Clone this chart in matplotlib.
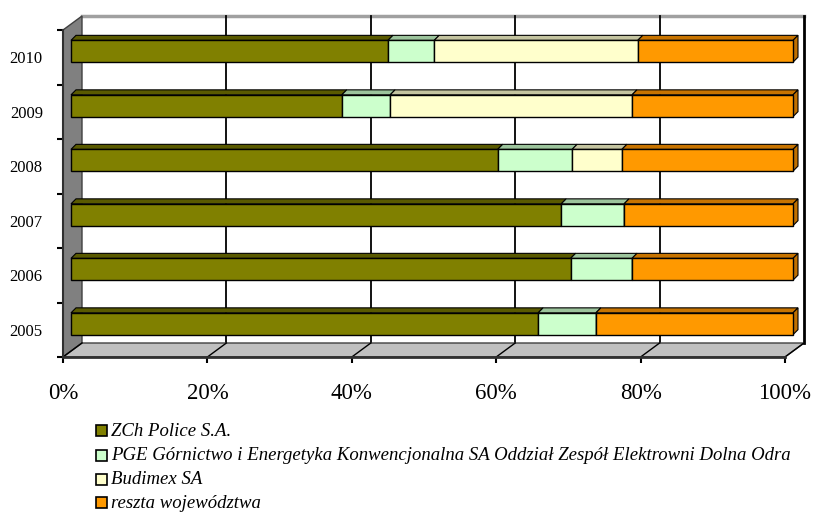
import numpy as np
import matplotlib
matplotlib.use('Agg')
import matplotlib.pyplot as plt
from matplotlib.patches import Polygon, Rectangle

years = ['2005', '2006', '2007', '2008', '2009', '2010']
zch = [64.7, 69.2, 67.9, 59.1, 37.5, 43.9]
pge = [8.0, 8.5, 8.7, 10.3, 6.7, 6.4]
budimex = [0.0, 0.0, 0.0, 6.9, 33.5, 28.2]
reszta = [27.3, 22.3, 23.4, 23.7, 22.3, 21.5]

labels = ['ZCh Police S.A.',
          'PGE Górnictwo i Energetyka Konwencjonalna SA Oddział Zespół Elektrowni Dolna Odra',
          'Budimex SA',
          'reszta województwa']
colors = ['#808000', '#ccffcc', '#ffffcc', '#ff9900']
top_colors = ['#5a5a00', '#9cc49c', '#c4c4a0', '#c87400']
side_colors = ['#5a5a00', '#9cc49c', '#c4c4a0', '#c07000']
xticks = [0, 20, 40, 60, 80, 100]

W, H = 814, 513
fig = plt.figure(figsize=(W / 100, H / 100), dpi=100)
# front plane of the 3D box in pixels (left, right, top, bottom)
L, R, T, B = 63, 785, 30, 357
ax = fig.add_axes([L / W, (H - B) / H, (R - L) / W, (B - T) / H])
ax.set_xlim(0, 100)
ax.set_ylim(-0.5, 5.5)
ax.patch.set_visible(False)

# pixel -> data
sx = 100 / (R - L)
sy = 6 / (B - T)
DX, DY = 19 * sx, 14 * sy

# back wall
ax.add_patch(Rectangle((DX, -0.5 + DY), 100, 6, facecolor='white', edgecolor='none',
                       zorder=0, clip_on=False))
ax.plot([DX, 100 + DX], [5.5 + DY, 5.5 + DY], color='#a0a0a0', lw=2.5, zorder=1, clip_on=False)
ax.plot([100 + DX, 100 + DX], [-0.5 + DY, 5.5 + DY], color='black', lw=2, zorder=1, clip_on=False)
for x in xticks[1:-1]:
    ax.plot([x + DX, x + DX], [-0.5 + DY, 5.5 + DY], color='black', lw=1.3, zorder=1, clip_on=False)

# left wall
ax.add_patch(Polygon([(0, -0.5), (0, 5.5), (DX, 5.5 + DY), (DX, -0.5 + DY)],
                     facecolor='#808080', edgecolor='#404040', lw=1, zorder=2, clip_on=False))
# floor
ax.add_patch(Polygon([(0, -0.5), (100, -0.5), (100 + DX, -0.5 + DY), (DX, -0.5 + DY)],
                     facecolor='#c0c0c0', edgecolor='#404040', lw=1, zorder=2, clip_on=False))
for x in xticks:
    ax.plot([x, x + DX], [-0.5, -0.5 + DY], color='black', lw=1, zorder=3, clip_on=False)

# bars
y = np.arange(len(years))
fx, fy = 8 * sx, 6 * sy      # bar front face offset
bx, by = 5 * sx, 5 * sy      # bar depth
h = 0.40
series = [zch, pge, budimex, reszta]
left = np.zeros(len(years))
for k, vals in enumerate(series):
    vals = np.array(vals)
    for i in range(len(years)):
        if vals[i] <= 0:
            continue
        l = left[i] + fx
        r = l + vals[i]
        t = y[i] + fy + h / 2
        b = y[i] + fy - h / 2
        z = 10 + k
        ax.add_patch(Polygon([(l, t), (r, t), (r + bx, t + by), (l + bx, t + by)],
                             facecolor=top_colors[k], edgecolor='black', lw=0.8,
                             zorder=z, clip_on=False))
        if k == len(series) - 1:
            ax.add_patch(Polygon([(r, b), (r, t), (r + bx, t + by), (r + bx, b + by)],
                                 facecolor=side_colors[k], edgecolor='black', lw=0.8,
                                 zorder=z, clip_on=False))
    ax.barh(y + fy, vals, left=left + fx, height=h, color=colors[k],
            edgecolor='black', lw=1, zorder=10 + k, clip_on=False)
    left += vals

# axes, ticks
for s in ['top', 'right']:
    ax.spines[s].set_visible(False)
ax.spines['bottom'].set_color('#303030')
ax.spines['bottom'].set_linewidth(2)
ax.spines['bottom'].set_zorder(4)
ax.spines['left'].set_color('#303030')
ax.spines['left'].set_linewidth(1.5)
ax.spines['left'].set_zorder(4)

ax.set_xticks(xticks)
ax.set_xticklabels([f'{v}%' for v in xticks], family='Liberation Serif', fontsize=16.5)
ax.tick_params(axis='x', length=4, width=1.5, pad=15)
ax.set_yticks(np.arange(-0.5, 6, 1))
ax.set_yticklabels([])
ax.tick_params(axis='y', which='major', length=4, width=1.5)
ax.set_yticks(y, minor=True)
ax.set_yticklabels(years, minor=True, family='Liberation Serif', fontsize=12)
ax.tick_params(axis='y', which='minor', length=0, pad=14.5)

# legend
rows = [431, 456, 480, 503]
for k in range(4):
    fig.add_artist(Rectangle((96 / W, (H - rows[k] - 5) / H), 11 / W, 11 / H,
                             transform=fig.transFigure, facecolor=colors[k],
                             edgecolor='black', lw=1.2))
    fig.text(111 / W, (H - rows[k]) / H, labels[k], family='Liberation Serif',
             style='italic', fontsize=13.5, va='center', ha='left')

fig.savefig('out.png', dpi=100)
